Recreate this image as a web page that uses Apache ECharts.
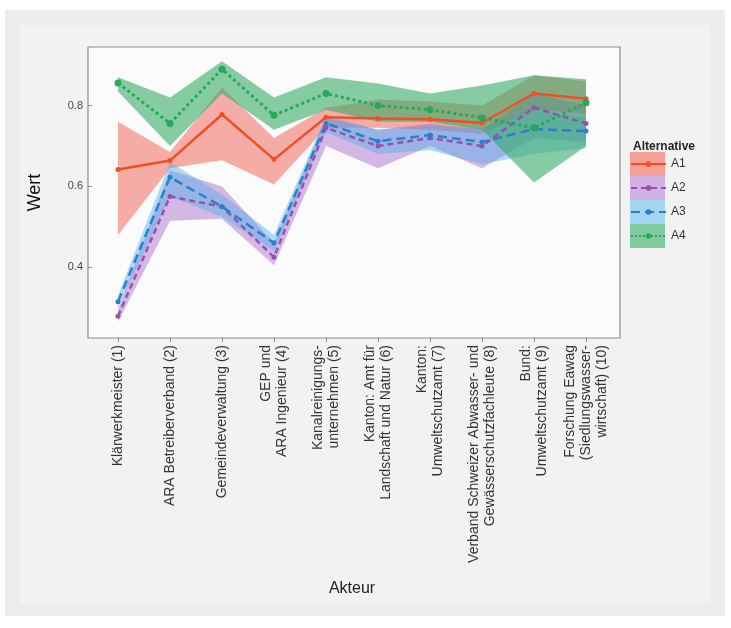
<!DOCTYPE html>
<html>
<head>
<meta charset="utf-8">
<script src="https://cdn.jsdelivr.net/npm/echarts@6/dist/echarts.min.js"></script>
<style>
  html, body { margin: 0; padding: 0; background: #ffffff; }
  #chart { width: 731px; height: 628px; }
</style>
</head>
<body>
<div id="chart"></div>
<script>
// Akteure (x-axis categories)
const akteure = [
  'Klärwerkmeister (1)',
  'ARA Betreiberverband (2)',
  'Gemeindeverwaltung (3)',
  'GEP und\nARA Ingenieur (4)',
  'Kanalreinigungs-\nunternehmen (5)',
  'Kanton: Amt für\nLandschaft und Natur (6)',
  'Kanton:\nUmweltschutzamt (7)',
  'Verband Schweizer Abwasser- und\nGewässerschutzfachleute (8)',
  'Bund:\nUmweltschutzamt (9)',
  'Forschung Eawag\n(Siedlungswasser-\nwirtschaft) (10)'
];

const yTicks = [0.4, 0.6, 0.8];

// Mean value per Akteur and the lower/upper bounds of each band
const a1Mean = [0.642, 0.664, 0.778, 0.667, 0.771, 0.768, 0.766, 0.757, 0.830, 0.817];
const a1Low  = [0.480, 0.645, 0.665, 0.605, 0.745, 0.745, 0.740, 0.730, 0.790, 0.780];
const a1High = [0.760, 0.685, 0.845, 0.720, 0.795, 0.815, 0.810, 0.800, 0.875, 0.860];

const a2Mean = [0.279, 0.575, 0.550, 0.425, 0.745, 0.700, 0.720, 0.700, 0.795, 0.756];
const a2Low  = [0.265, 0.515, 0.520, 0.405, 0.700, 0.645, 0.700, 0.645, 0.720, 0.710];
const a2High = [0.295, 0.640, 0.600, 0.460, 0.770, 0.740, 0.755, 0.740, 0.830, 0.800];

const a3Mean = [0.315, 0.623, 0.550, 0.460, 0.756, 0.712, 0.727, 0.710, 0.742, 0.737];
const a3Low  = [0.300, 0.575, 0.525, 0.440, 0.735, 0.680, 0.690, 0.655, 0.680, 0.695];
const a3High = [0.330, 0.660, 0.580, 0.480, 0.775, 0.740, 0.750, 0.745, 0.790, 0.770];

const a4Mean = [0.856, 0.756, 0.890, 0.776, 0.830, 0.800, 0.790, 0.770, 0.745, 0.807];
const a4Low  = [0.835, 0.700, 0.830, 0.740, 0.790, 0.760, 0.760, 0.740, 0.610, 0.700];
const a4High = [0.870, 0.820, 0.910, 0.820, 0.870, 0.855, 0.830, 0.850, 0.875, 0.865];

const alternatives = [
  { name: 'A1', mean: a1Mean, low: a1Low, high: a1High,
    line: '#F04E23', band: 'rgba(240,100,90,0.52)', key: '#F5A097', dash: 'solid', width: 2.5, sym: 5 },
  { name: 'A2', mean: a2Mean, low: a2Low, high: a2High,
    line: '#9A4FB0', band: 'rgba(165,100,200,0.45)', key: '#D3B0E4', dash: [6, 4], width: 2.5, sym: 5 },
  { name: 'A3', mean: a3Mean, low: a3Low, high: a3High,
    line: '#2A80C9', band: 'rgba(80,175,230,0.45)', key: '#A3D5F0', dash: [9, 5], width: 2.5, sym: 5 },
  { name: 'A4', mean: a4Mean, low: a4Low, high: a4High,
    line: '#27A85A', band: 'rgba(50,170,100,0.58)', key: '#80CC9E', dash: 'dotted', width: 3, sym: 7 }
];

const series = [];
// Bands: invisible lower line + stacked width with filled area
alternatives.forEach(function (a) {
  series.push({
    name: a.name + ' unten', type: 'line', stack: a.name + 'band',
    data: a.low, symbol: 'none', silent: true,
    lineStyle: { opacity: 0 }, z: 1
  });
  series.push({
    name: a.name + ' Band', type: 'line', stack: a.name + 'band',
    data: a.high.map(function (h, i) { return +(h - a.low[i]).toFixed(4); }),
    symbol: 'none', silent: true, color: a.key,
    lineStyle: { opacity: 0 },
    areaStyle: { color: a.band, opacity: 1 }, z: 1
  });
});
// Mean lines with points
alternatives.forEach(function (a) {
  series.push({
    name: a.name, type: 'line', data: a.mean, color: a.line,
    symbol: 'circle', symbolSize: a.sym,
    itemStyle: { color: a.line },
    lineStyle: { color: a.line, width: a.width, type: a.dash },
    z: 5
  });
});

const chart = echarts.init(document.getElementById('chart'), null, { renderer: 'canvas' });
chart.setOption({
  backgroundColor: '#ffffff',
  animation: false,
  graphic: [
    { type: 'rect', shape: { x: 5, y: 10, width: 720, height: 606 }, style: { fill: '#ececec' }, z: -10, silent: true },
    { type: 'rect', shape: { x: 20, y: 25, width: 690, height: 578 }, style: { fill: '#f2f2f2' }, z: -9, silent: true },
    { type: 'rect', shape: { x: 88, y: 47, width: 532, height: 291 }, style: { fill: '#fbfbfb', stroke: '#8c8c8c', lineWidth: 1.2 }, z: -8, silent: true }
  ],
  title: {
    text: 'Alternative', left: 628, top: 136,
    textStyle: { fontFamily: 'Liberation Sans', fontSize: 12, fontWeight: 'bold', color: '#222' }
  },
  legend: [
    {
      data: alternatives.map(function (a) { return { name: a.name + ' Band', itemStyle: { color: a.key } }; }),
      orient: 'vertical', left: 630, top: 152, itemWidth: 35, itemHeight: 24, itemGap: 0,
      icon: 'rect', padding: 0, selectedMode: false,
      formatter: function () { return ''; },
      textStyle: { fontSize: 12, lineHeight: 24 }
    },
    {
      data: alternatives.map(function (a) { return a.name; }),
      orient: 'vertical', left: 630, top: 152, itemWidth: 35, itemHeight: 7, itemGap: 0,
      padding: 0, selectedMode: false,
      textStyle: { fontFamily: 'Liberation Sans', fontSize: 12, lineHeight: 24, color: '#333' }
    }
  ],
  grid: { left: 92, top: 47, width: 520, height: 291, containLabel: false },
  xAxis: {
    type: 'category', data: akteure, boundaryGap: true,
    name: 'Akteur', nameLocation: 'middle', nameGap: 243,
    nameTextStyle: { fontFamily: 'Liberation Sans', fontSize: 16, color: '#222' },
    axisLine: { show: false },
    axisTick: { show: true, alignWithLabel: true, length: 4, lineStyle: { color: '#8c8c8c' } },
    axisLabel: {
      interval: 0, rotate: 90, margin: 7,
      fontFamily: 'Liberation Sans', fontSize: 14, lineHeight: 16, color: '#333'
    },
    splitLine: { show: false }
  },
  yAxis: {
    type: 'value', min: 0.225, max: 0.945,
    name: 'Wert', nameLocation: 'middle', nameGap: 48, nameRotate: 90,
    nameTextStyle: { fontFamily: 'Liberation Sans', fontSize: 18, color: '#111' },
    axisLine: { show: false },
    axisTick: { show: true, length: 4, customValues: yTicks, lineStyle: { color: '#8c8c8c' } },
    axisLabel: {
      customValues: yTicks, margin: 9,
      fontFamily: 'Liberation Sans', fontSize: 11, color: '#444',
      formatter: function (v) { return v.toFixed(1); }
    },
    splitLine: { show: false }
  },
  series: series
});
</script>
</body>
</html>
